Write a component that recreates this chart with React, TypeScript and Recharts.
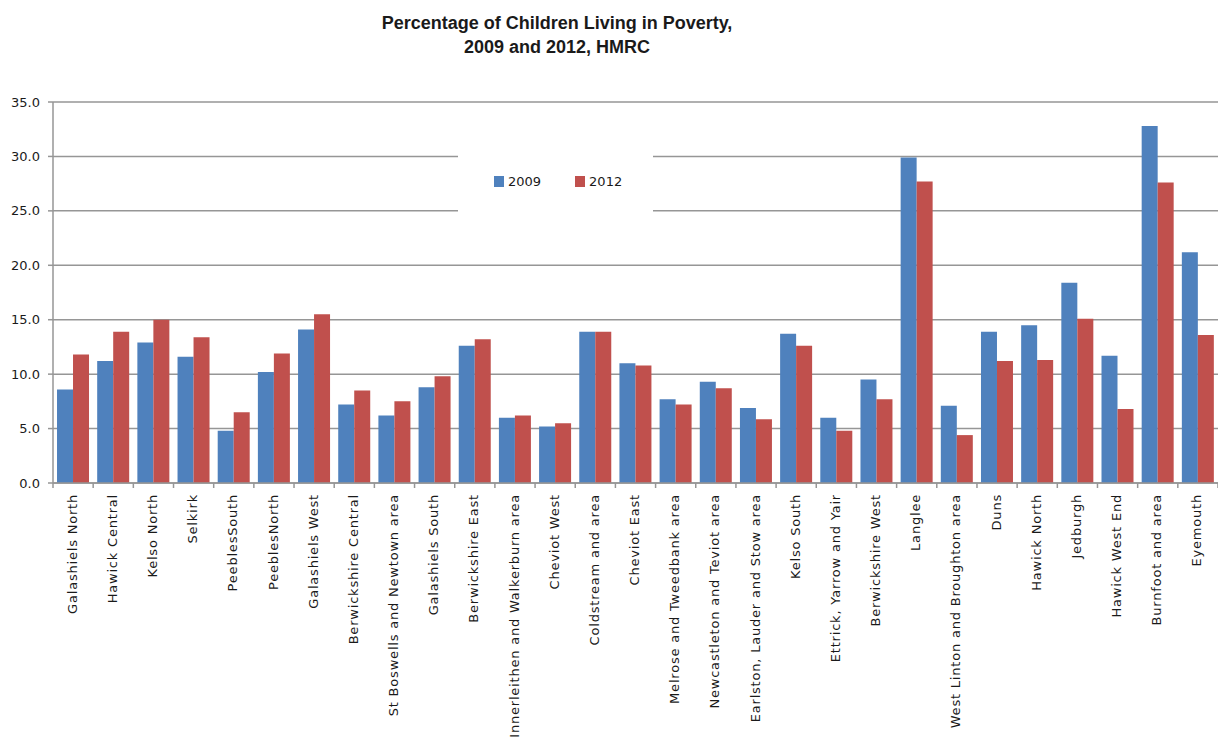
import { BarChart, Bar, XAxis, YAxis, CartesianGrid, Legend } from "recharts";

const areas = [
  "Galashiels North",
  "Hawick Central",
  "Kelso North",
  "Selkirk",
  "PeeblesSouth",
  "PeeblesNorth",
  "Galashiels West",
  "Berwickshire Central",
  "St Boswells and Newtown area",
  "Galashiels South",
  "Berwickshire East",
  "Innerleithen and Walkerburn area",
  "Cheviot West",
  "Coldstream and area",
  "Cheviot East",
  "Melrose and Tweedbank area",
  "Newcastleton and Teviot area",
  "Earlston, Lauder and Stow area",
  "Kelso South",
  "Ettrick, Yarrow and Yair",
  "Berwickshire West",
  "Langlee",
  "West Linton and Broughton area",
  "Duns",
  "Hawick North",
  "Jedburgh",
  "Hawick West End",
  "Burnfoot and area",
  "Eyemouth",
];

const pct2009 = [
  8.6, 11.2, 12.9, 11.6, 4.8, 10.2, 14.1, 7.2, 6.2, 8.8, 12.6, 6.0, 5.2, 13.9, 11.0,
  7.7, 9.3, 6.9, 13.7, 6.0, 9.5, 29.9, 7.1, 13.9, 14.5, 18.4, 11.7, 32.8, 21.2,
];

const pct2012 = [
  11.8, 13.9, 15.0, 13.4, 6.5, 11.9, 15.5, 8.5, 7.5, 9.8, 13.2, 6.2, 5.5, 13.9, 10.8,
  7.2, 8.7, 5.85, 12.6, 4.8, 7.7, 27.7, 4.4, 11.2, 11.3, 15.1, 6.8, 27.6, 13.6,
];

const yTicks = [0, 5, 10, 15, 20, 25, 30, 35];

const data = areas.map((area, i) => ({ area, y2009: pct2009[i], y2012: pct2012[i] }));

const W = 1218;
const H = 743;
const Y_AXIS_W = 53;
const halfCat = (W - Y_AXIS_W) / areas.length / 2;
const GRID = "#969696";
const FONT = "DejaVu Sans, sans-serif";

const AreaTick = (props: any) => {
  const { x, y, payload, index } = props;
  return (
    <g>
      <line x1={x - halfCat} x2={x - halfCat} y1={y} y2={y + 5} stroke={GRID} strokeWidth={1.5} />
      {index === areas.length - 1 && (
        <line x1={x + halfCat} x2={x + halfCat} y1={y} y2={y + 5} stroke={GRID} strokeWidth={1.5} />
      )}
      <text
        transform={`translate(${x - 1},${y + 11}) rotate(-90)`}
        textAnchor="end"
        dy="0.35em"
        fontSize={13}
        letterSpacing={0.8}
        fontFamily={FONT}
        fill="#1a1a1a"
      >
        {payload.value}
      </text>
    </g>
  );
};

const renderLegend = (props: any) => {
  const { payload } = props;
  return (
    <div
      style={{
        display: "flex",
        alignItems: "center",
        height: "100%",
        paddingLeft: 36,
        fontFamily: FONT,
        fontSize: 13,
        color: "#1a1a1a",
      }}
    >
      {(payload || []).map((p: any) => (
        <div key={p.value} style={{ display: "flex", alignItems: "center", marginRight: 34 }}>
          <span style={{ width: 10, height: 11, background: p.color, marginRight: 4, display: "inline-block" }} />
          <span>{p.value}</span>
        </div>
      ))}
    </div>
  );
};

export default function App() {
  return (
    <div style={{ position: "absolute", left: 0, top: 0, width: W, height: H, background: "#fff" }}>
      <div
        style={{
          position: "absolute",
          left: 0,
          top: 11,
          width: 1114,
          textAlign: "center",
          fontFamily: "'Liberation Sans Narrow', 'Liberation Sans', sans-serif",
          fontWeight: "bold",
          fontSize: 18,
          lineHeight: "24px",
          color: "#1a1a1a",
        }}
      >
        Percentage of Children Living in Poverty,
        <br />
        2009 and 2012, HMRC
      </div>
      <BarChart
        width={W}
        height={H}
        data={data}
        margin={{ top: 102, right: 0, bottom: 0, left: 0 }}
        barCategoryGap="10%"
        barGap={0}
      >
        <CartesianGrid vertical={false} stroke={GRID} strokeWidth={1.5} />
        <XAxis
          dataKey="area"
          interval={0}
          height={260}
          tickSize={0}
          tickMargin={0}
          tickLine={false}
          axisLine={{ stroke: GRID, strokeWidth: 1.5 }}
          tick={<AreaTick />}
        />
        <YAxis
          width={Y_AXIS_W}
          domain={[0, 35]}
          ticks={yTicks}
          interval={0}
          tickFormatter={(v: number) => v.toFixed(1)}
          tickSize={5}
          tickMargin={8}
          tickLine={{ stroke: GRID, strokeWidth: 1.5 }}
          axisLine={{ stroke: GRID, strokeWidth: 1.5 }}
          tick={{ fontSize: 13, fontFamily: FONT, fill: "#1a1a1a" }}
        />
        <Legend
          layout="horizontal"
          verticalAlign="middle"
          align="center"
          content={renderLegend}
          wrapperStyle={{ position: "absolute", left: 458, top: 150, width: 195, height: 62, background: "#fff" }}
        />
        <Bar dataKey="y2009" name="2009" fill="#4F81BD" isAnimationActive={false} />
        <Bar dataKey="y2012" name="2012" fill="#C0504D" isAnimationActive={false} />
      </BarChart>
    </div>
  );
}
